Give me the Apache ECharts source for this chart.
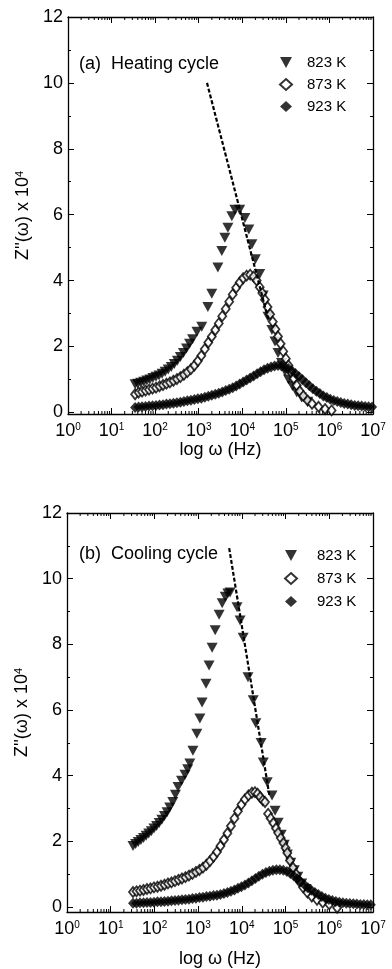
<!DOCTYPE html>
<html>
<head>
<meta charset="utf-8">
<script src="https://cdn.jsdelivr.net/npm/echarts@6/dist/echarts.min.js"></script>
<style>
  html, body { margin: 0; background: #fff; }
  #chart { width: 392px; height: 969px; }
</style>
</head>
<body>
<div id="chart"></div>
<script>
// x = log10(omega / Hz), y = Z''(omega) x 10^4

const heat823 = [
  [1.54, 0.85], [1.6, 0.87], [1.67, 0.9], [1.74, 0.93], [1.81, 0.97], [1.88, 1.0], [1.95, 1.04],
  [2.02, 1.08], [2.09, 1.12], [2.16, 1.17], [2.23, 1.23], [2.3, 1.3], [2.37, 1.38], [2.44, 1.47],
  [2.51, 1.57], [2.58, 1.68], [2.65, 1.8], [2.72, 1.94], [2.79, 2.08], [2.86, 2.22], [2.96, 2.45],
  [3.07, 2.6], [3.21, 3.2], [3.3, 3.6], [3.44, 4.4], [3.53, 4.9], [3.6, 5.3], [3.67, 5.6],
  [3.76, 5.95], [3.83, 6.15], [3.94, 6.15], [4.06, 5.9], [4.15, 5.55], [4.22, 5.1], [4.3, 4.65],
  [4.4, 4.2], [4.48, 3.55], [4.59, 2.9], [4.68, 2.5], [4.75, 2.15], [4.82, 1.8], [4.9, 1.5],
  [4.98, 1.25], [5.06, 1.0], [5.15, 0.8], [5.25, 0.6], [5.36, 0.45], [5.5, 0.32]
];
const heat873 = [
  [1.54, 0.55], [1.62, 0.6], [1.7, 0.63], [1.78, 0.66], [1.86, 0.69], [1.94, 0.72], [2.02, 0.75],
  [2.1, 0.79], [2.18, 0.83], [2.26, 0.87], [2.34, 0.91], [2.42, 0.96], [2.5, 1.01], [2.58, 1.07],
  [2.66, 1.14], [2.74, 1.22], [2.82, 1.31], [2.9, 1.42], [2.98, 1.56], [3.06, 1.72], [3.14, 1.92],
  [3.22, 2.12], [3.3, 2.3], [3.38, 2.5], [3.46, 2.7], [3.54, 2.92], [3.62, 3.14], [3.7, 3.36],
  [3.78, 3.58], [3.86, 3.78], [3.94, 3.94], [4.02, 4.07], [4.1, 4.15], [4.18, 4.18], [4.26, 4.12],
  [4.33, 4.0], [4.4, 3.8], [4.46, 3.62], [4.52, 3.42], [4.58, 3.2], [4.64, 2.98], [4.7, 2.75],
  [4.76, 2.52], [4.82, 2.3], [4.88, 2.08], [4.94, 1.85], [5.0, 1.63], [5.06, 1.42], [5.12, 1.22],
  [5.18, 1.03], [5.25, 0.82], [5.32, 0.64], [5.4, 0.5], [5.5, 0.36], [5.6, 0.26], [5.75, 0.17],
  [5.9, 0.1], [6.05, 0.06]
];
const heat923 = [
  [1.54, 0.15], [1.62, 0.16], [1.7, 0.17], [1.78, 0.18], [1.86, 0.19], [1.94, 0.2], [2.02, 0.21],
  [2.1, 0.22], [2.18, 0.23], [2.26, 0.25], [2.34, 0.26], [2.42, 0.28], [2.5, 0.29], [2.58, 0.31],
  [2.66, 0.33], [2.74, 0.35], [2.82, 0.37], [2.9, 0.39], [2.98, 0.41], [3.06, 0.43], [3.14, 0.46],
  [3.22, 0.49], [3.3, 0.52], [3.38, 0.55], [3.46, 0.58], [3.54, 0.62], [3.62, 0.66], [3.7, 0.7],
  [3.78, 0.75], [3.86, 0.8], [3.94, 0.86], [4.02, 0.92], [4.1, 0.98], [4.18, 1.04], [4.26, 1.1],
  [4.34, 1.17], [4.42, 1.23], [4.5, 1.29], [4.58, 1.34], [4.66, 1.38], [4.74, 1.41], [4.82, 1.42],
  [4.9, 1.41], [4.98, 1.38], [5.06, 1.33], [5.14, 1.26], [5.22, 1.18], [5.3, 1.09], [5.38, 1.0],
  [5.46, 0.9], [5.54, 0.81], [5.62, 0.72], [5.7, 0.64], [5.78, 0.57], [5.86, 0.5], [5.94, 0.45],
  [6.02, 0.4], [6.1, 0.36], [6.18, 0.33], [6.26, 0.3], [6.34, 0.27], [6.42, 0.25], [6.5, 0.23],
  [6.58, 0.21], [6.66, 0.2], [6.74, 0.19], [6.82, 0.18], [6.9, 0.17], [6.98, 0.16]
];
const heatFit = [[3.19, 10.0], [4.6, 2.8]];

const cool823 = [
  [1.51, 1.86], [1.57, 1.92], [1.63, 1.98], [1.69, 2.04], [1.75, 2.1], [1.81, 2.17], [1.87, 2.24],
  [1.93, 2.31], [1.99, 2.39], [2.05, 2.47], [2.11, 2.56], [2.17, 2.66], [2.23, 2.77], [2.29, 2.89],
  [2.35, 3.03], [2.42, 3.2], [2.48, 3.42], [2.54, 3.66], [2.62, 3.85], [2.7, 4.03], [2.76, 4.2],
  [2.81, 4.37], [2.88, 4.76], [2.97, 5.28], [3.04, 5.74], [3.09, 6.23], [3.18, 6.8], [3.25, 7.36],
  [3.32, 7.9], [3.39, 8.43], [3.48, 8.9], [3.55, 9.25], [3.62, 9.45], [3.68, 9.55], [3.73, 9.58],
  [3.89, 9.13], [3.96, 8.73], [4.03, 8.2], [4.14, 7.0], [4.26, 6.3], [4.32, 5.6], [4.44, 5.0],
  [4.49, 4.4], [4.58, 3.8], [4.69, 3.4], [4.76, 2.93], [4.83, 2.57], [4.9, 2.2], [4.97, 1.9],
  [5.04, 1.6], [5.12, 1.35], [5.2, 1.12], [5.28, 0.92], [5.37, 0.72], [5.47, 0.55]
];
const cool873 = [
  [1.51, 0.46], [1.59, 0.48], [1.67, 0.5], [1.75, 0.52], [1.83, 0.55], [1.91, 0.57], [1.99, 0.6],
  [2.07, 0.62], [2.15, 0.65], [2.23, 0.68], [2.31, 0.72], [2.39, 0.75], [2.47, 0.79], [2.55, 0.83],
  [2.63, 0.87], [2.71, 0.91], [2.79, 0.96], [2.87, 1.01], [2.95, 1.07], [3.03, 1.13], [3.11, 1.2],
  [3.19, 1.29], [3.27, 1.4], [3.35, 1.53], [3.43, 1.68], [3.51, 1.86], [3.59, 2.05], [3.67, 2.25],
  [3.75, 2.47], [3.83, 2.7], [3.91, 2.92], [3.99, 3.12], [4.07, 3.28], [4.15, 3.4], [4.23, 3.48],
  [4.3, 3.5], [4.36, 3.45], [4.42, 3.35], [4.48, 3.25], [4.53, 3.2], [4.6, 2.84], [4.66, 2.7],
  [4.72, 2.56], [4.78, 2.4], [4.83, 2.26], [4.89, 2.1], [4.95, 1.95], [5.0, 1.8], [5.04, 1.65],
  [5.1, 1.42], [5.17, 1.2], [5.24, 1.0], [5.32, 0.78], [5.4, 0.6], [5.5, 0.44], [5.6, 0.32],
  [5.72, 0.22], [5.85, 0.14], [6.0, 0.08], [6.18, -0.02]
];
const cool923 = [
  [1.51, 0.12], [1.59, 0.12], [1.67, 0.13], [1.75, 0.13], [1.83, 0.14], [1.91, 0.14], [1.99, 0.15],
  [2.07, 0.16], [2.15, 0.16], [2.23, 0.17], [2.31, 0.18], [2.39, 0.19], [2.47, 0.2], [2.55, 0.21],
  [2.63, 0.22], [2.71, 0.23], [2.79, 0.24], [2.87, 0.26], [2.95, 0.27], [3.03, 0.29], [3.11, 0.3],
  [3.19, 0.32], [3.27, 0.33], [3.35, 0.35], [3.43, 0.36], [3.51, 0.38], [3.59, 0.41], [3.67, 0.44],
  [3.75, 0.48], [3.83, 0.52], [3.91, 0.57], [3.99, 0.62], [4.07, 0.67], [4.15, 0.73], [4.23, 0.8],
  [4.31, 0.87], [4.39, 0.94], [4.47, 1.0], [4.55, 1.05], [4.63, 1.09], [4.71, 1.12], [4.79, 1.14],
  [4.87, 1.14], [4.95, 1.12], [5.03, 1.08], [5.11, 1.02], [5.19, 0.95], [5.27, 0.86], [5.35, 0.77],
  [5.43, 0.68], [5.51, 0.59], [5.59, 0.51], [5.67, 0.44], [5.75, 0.38], [5.83, 0.32], [5.91, 0.27],
  [5.99, 0.23], [6.07, 0.2], [6.15, 0.17], [6.23, 0.15], [6.31, 0.13], [6.39, 0.12], [6.47, 0.11],
  [6.55, 0.1], [6.63, 0.09], [6.71, 0.08], [6.79, 0.08], [6.87, 0.07], [6.95, 0.07]
];
const coolFit = [[3.71, 10.93], [4.63, 3.4]];

const seriesNames = ['823 K', '873 K', '923 K'];
const panelTitles = ['(a)  Heating cycle', '(b)  Cooling cycle'];
const decades = [0, 1, 2, 3, 4, 5, 6, 7];

// log-decade minor tick positions (2..9 x 10^n)
const minorLog = [];
decades.slice(0, -1).forEach((n) => {
  for (let k = 2; k <= 9; k++) minorLog.push([n + Math.log10(k), 0]);
});

const FONT = '"Liberation Sans", Arial, sans-serif';
const TRI_DOWN = 'path://M0,0L10,0L5,9Z';

const chart = echarts.init(document.getElementById('chart'));

function xAxes(gridIndex, nameGap) {
  return [
    {
      gridIndex,
      type: 'value',
      min: decades[0],
      max: decades[decades.length - 1],
      interval: 1,
      position: 'bottom',
      name: 'log ω (Hz)',
      nameLocation: 'middle',
      nameGap,
      nameTextStyle: { fontSize: 18, color: '#000', fontFamily: FONT },
      axisLine: { onZero: false, lineStyle: { color: '#000', width: 1.3 } },
      axisTick: { inside: true, length: 6, lineStyle: { color: '#000' } },
      splitLine: { show: false },
      axisLabel: {
        margin: 8,
        color: '#000',
        formatter: (v) => '{a|10}{s|' + v + '}',
        rich: {
          a: { fontSize: 18, lineHeight: 18, fontFamily: FONT, color: '#000' },
          s: { fontSize: 10, lineHeight: 8, verticalAlign: 'top', fontFamily: FONT, color: '#000' }
        }
      }
    },
    {
      gridIndex,
      type: 'value',
      min: decades[0],
      max: decades[decades.length - 1],
      interval: 1,
      position: 'top',
      axisLine: { onZero: false, lineStyle: { color: '#000', width: 1.3 } },
      axisTick: { inside: true, length: 6, lineStyle: { color: '#000' } },
      axisLabel: { show: false },
      splitLine: { show: false }
    }
  ];
}

function yAxes(gridIndex, min) {
  const common = {
    gridIndex,
    type: 'value',
    min,
    max: 12,
    splitNumber: 5,
    axisLine: { onZero: false, lineStyle: { color: '#000', width: 1.3 } },
    axisTick: { inside: true, length: 6, lineStyle: { color: '#000' } },
    minorTick: { show: true, splitNumber: 2, length: 3, lineStyle: { color: '#000' } },
    splitLine: { show: false }
  };
  return [
    Object.assign({}, common, {
      position: 'left',
      name: "Z''(ω) x 10{s|4}",
      nameLocation: 'middle',
      nameGap: 31,
      nameTextStyle: {
        fontSize: 18, color: '#000', fontFamily: FONT,
        rich: { s: { fontSize: 11, lineHeight: 8, verticalAlign: 'top', fontFamily: FONT, color: '#000' } }
      },
      axisLabel: {
        margin: 5,
        fontSize: 18,
        color: '#000',
        fontFamily: FONT,
        formatter: (v) => (Math.abs(v - Math.round(v)) < 1e-6 ? String(v) : '')
      }
    }),
    Object.assign({}, common, { position: 'right', axisLabel: { show: false } })
  ];
}

function panelSeries(idx, d823, d873, d923, fit) {
  const ax = { xAxisIndex: idx * 2, yAxisIndex: idx * 2 };
  return [
    Object.assign({
      name: seriesNames[0], type: 'scatter', data: d823,
      symbol: TRI_DOWN, symbolSize: [11, 10],
      itemStyle: { color: '#000' }
    }, ax),
    Object.assign({
      name: seriesNames[1], type: 'scatter', data: d873,
      symbol: 'diamond', symbolSize: [8, 10],
      itemStyle: { color: '#fff', borderColor: '#000', borderWidth: 1.8 }
    }, ax),
    Object.assign({
      name: seriesNames[2], type: 'scatter', data: d923,
      symbol: 'diamond', symbolSize: [10, 11],
      itemStyle: { color: '#000' }
    }, ax),
    Object.assign({
      type: 'line', data: fit, symbol: 'none', silent: true,
      lineStyle: { color: '#000', width: 2.2, type: [4, 2] }, z: 3
    }, ax),
    Object.assign({
      type: 'custom', data: minorLog, silent: true, clip: false,
      renderItem: (params, api) => {
        const x = api.coord([api.value(0), 0])[0];
        const cs = params.coordSys;
        const yb = cs.y + cs.height;
        return {
          type: 'group',
          children: [
            { type: 'line', shape: { x1: x, y1: yb, x2: x, y2: yb - 3 }, style: { stroke: '#000', lineWidth: 1 } },
            { type: 'line', shape: { x1: x, y1: cs.y, x2: x, y2: cs.y + 3 }, style: { stroke: '#000', lineWidth: 1 } }
          ]
        };
      }
    }, ax)
  ];
}

chart.setOption({
  animation: false,
  backgroundColor: '#fff',
  textStyle: { fontFamily: FONT },
  title: [
    { text: panelTitles[0], left: 79, top: 55, padding: 0, textStyle: { fontSize: 18, fontWeight: 'normal', color: '#000', fontFamily: FONT } },
    { text: panelTitles[1], left: 79, top: 545, padding: 0, textStyle: { fontSize: 18, fontWeight: 'normal', color: '#000', fontFamily: FONT } }
  ],
  legend: [
    {
      data: seriesNames, orient: 'vertical', left: 279, top: 55, padding: 0,
      itemWidth: 12, itemHeight: 11, itemGap: 7, selectedMode: false,
      textStyle: { fontSize: 15, color: '#000', fontFamily: FONT, padding: [0, 0, 0, 10] }
    },
    {
      data: seriesNames, orient: 'vertical', left: 284, top: 548, padding: 0,
      itemWidth: 12, itemHeight: 11, itemGap: 8, selectedMode: false,
      textStyle: { fontSize: 15, color: '#000', fontFamily: FONT, padding: [0, 0, 0, 15] }
    }
  ],
  grid: [
    { left: 68, top: 17, width: 305, height: 397 },
    { left: 67, top: 513, width: 306, height: 399 }
  ],
  xAxis: xAxes(0, 27).concat(xAxes(1, 38)),
  yAxis: yAxes(0, -0.05).concat(yAxes(1, -0.15)),
  series: panelSeries(0, heat823, heat873, heat923, heatFit)
    .concat(panelSeries(1, cool823, cool873, cool923, coolFit))
});
</script>
</body>
</html>
